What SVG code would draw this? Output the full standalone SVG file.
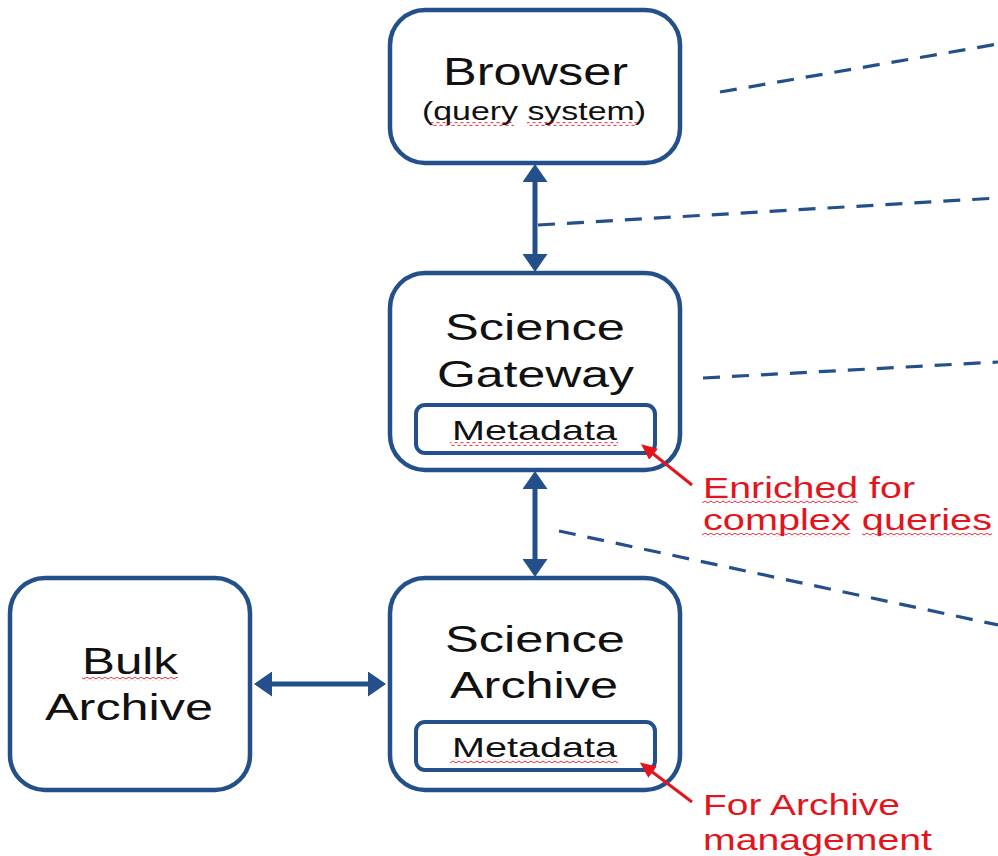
<svg xmlns="http://www.w3.org/2000/svg" width="998" height="856" viewBox="0 0 998 856">
<style>
.box{fill:#fff;stroke:#23508a;stroke-width:4.5}
.inner{fill:#fff;stroke:#23508a;stroke-width:4}
.t{font-family:"Liberation Sans",Arial,sans-serif;fill:#111}
.r{font-family:"Liberation Sans",Arial,sans-serif;fill:#e3141c}
.dash{stroke:#23508a;stroke-width:3.2;stroke-dasharray:17 12;fill:none}
.bi{stroke:#23508a;stroke-width:5;fill:none;marker-start:url(#bh);marker-end:url(#bh)}
.red{stroke:#e3141c;stroke-width:3;fill:none;marker-end:url(#rh)}
.sq{fill:url(#wave)}
</style>
<defs>
<marker id="bh" viewBox="0 0 18 25" markerWidth="18" markerHeight="25" markerUnits="userSpaceOnUse" refX="0" refY="12.5" orient="auto-start-reverse">
<path d="M0,0 L18,12.5 L0,25 z" fill="#23508a"/>
</marker>
<marker id="rh" viewBox="0 0 16 14" markerWidth="16" markerHeight="14" markerUnits="userSpaceOnUse" refX="2" refY="7" orient="auto">
<path d="M0,0 L16,7 L0,14 z" fill="#e3141c"/>
</marker>
<pattern id="wave" patternUnits="userSpaceOnUse" width="6" height="4">
<path d="M0,3 L3,1 L6,3" stroke="#e3141c" stroke-width="0.9" fill="none"/>
</pattern>
</defs>

<g id="browser">
<rect class="box" x="390" y="10" width="290" height="153" rx="35"/>
<text class="t" x="443" y="85" font-size="38" textLength="185" lengthAdjust="spacingAndGlyphs">Browser</text>
<text class="t" x="422" y="120" font-size="25" textLength="224" lengthAdjust="spacingAndGlyphs">(query system)</text>
<rect class="sq" x="430" y="122" width="84" height="4"/>
<rect class="sq" x="527" y="122" width="110" height="4"/>
</g>

<g id="gateway">
<rect class="box" x="390" y="273" width="290" height="197" rx="35"/>
<text class="t" x="445" y="340" font-size="36" textLength="180" lengthAdjust="spacingAndGlyphs">Science</text>
<text class="t" x="437" y="387" font-size="36" textLength="197" lengthAdjust="spacingAndGlyphs">Gateway</text>
</g>
<g id="gateway-metadata">
<rect class="inner" x="416" y="405" width="239" height="48" rx="9"/>
<text class="t" x="452" y="440" font-size="28" textLength="165" lengthAdjust="spacingAndGlyphs">Metadata</text>
<rect class="sq" x="450" y="442" width="168" height="4"/>
</g>

<g id="archive">
<rect class="box" x="390" y="578" width="290" height="212" rx="35"/>
<text class="t" x="445" y="652" font-size="36" textLength="180" lengthAdjust="spacingAndGlyphs">Science</text>
<text class="t" x="450" y="698" font-size="36" textLength="168" lengthAdjust="spacingAndGlyphs">Archive</text>
</g>
<g id="archive-metadata">
<rect class="inner" x="416" y="722" width="239" height="48" rx="9"/>
<text class="t" x="452" y="757" font-size="28" textLength="165" lengthAdjust="spacingAndGlyphs">Metadata</text>
<rect class="sq" x="450" y="759" width="168" height="4"/>
</g>

<g id="bulk">
<rect class="box" x="10" y="578" width="240" height="212" rx="35"/>
<text class="t" x="82" y="674" font-size="36" textLength="96" lengthAdjust="spacingAndGlyphs">Bulk</text>
<text class="t" x="45" y="720" font-size="36" textLength="168" lengthAdjust="spacingAndGlyphs">Archive</text>
<rect class="sq" x="82" y="677" width="96" height="4"/>
</g>

<g id="note-gateway">
<text class="r" x="703" y="498" font-size="29" textLength="212" lengthAdjust="spacingAndGlyphs">Enriched for</text>
<text class="r" x="703" y="530" font-size="29" textLength="289" lengthAdjust="spacingAndGlyphs">complex queries</text>
<rect class="sq" x="702" y="499" width="156" height="4"/>
<rect class="sq" x="702" y="533" width="148" height="4"/>
<rect class="sq" x="862" y="533" width="130" height="4"/>
</g>

<g id="note-archive">
<text class="r" x="703" y="815" font-size="29" textLength="197" lengthAdjust="spacingAndGlyphs">For Archive</text>
<text class="r" x="703" y="850" font-size="29" textLength="229" lengthAdjust="spacingAndGlyphs">management</text>
</g>

<g id="connectors">
<line class="bi" x1="535" y1="182" x2="535" y2="254"/>
<line class="bi" x1="535" y1="489" x2="535" y2="559"/>
<line class="bi" x1="272" y1="684" x2="368" y2="684"/>
<line class="dash" x1="720" y1="92" x2="998" y2="44"/>
<line class="dash" x1="538" y1="225" x2="998" y2="198"/>
<line class="dash" x1="703" y1="378" x2="998" y2="362"/>
<line class="dash" x1="559" y1="531" x2="998" y2="625"/>
<line class="red" x1="692" y1="485" x2="652" y2="453"/>
<line class="red" x1="692" y1="802" x2="651" y2="771"/>
</g>
</svg>
